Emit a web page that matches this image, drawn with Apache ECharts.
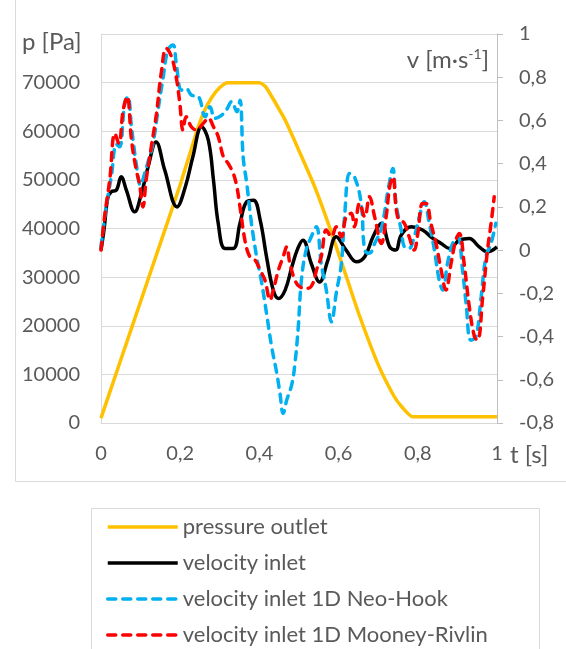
<!DOCTYPE html>
<html><head><meta charset="utf-8">
<script src="https://cdn.jsdelivr.net/npm/echarts@6/dist/echarts.min.js"></script>
<style>html,body{margin:0;padding:0;background:#fff}#c{width:566px;height:649px}</style>
</head><body><div id="c"></div>
<script>
// ---- data ----
const seriesNames = ['pressure outlet','velocity inlet','velocity inlet 1D Neo-Hook','velocity inlet 1D Mooney-Rivlin'];
const xTicks = [0, 0.2, 0.4, 0.6, 0.8, 1];

const tOutlet = [0,0.05,0.10,0.15,0.20,0.24,0.26,0.28,0.30,0.32,0.40,0.415,0.43,0.45,0.465,0.50,0.54,0.577,0.62,0.653,0.70,0.74,0.76,0.787,0.85,0.90,1.0];
const pOutlet = [1000,13000,25000,37000,49000,59500,64000,67000,69000,70000,70000,69200,67300,64500,62300,56000,48500,40300,30000,22000,12000,5500,3300,1300,1300,1300,1300];

const tInlet = [0,0.008,0.017,0.026,0.039,0.051,0.064,0.085,0.102,0.119,0.139,0.161,0.192,0.213,0.232,0.254,0.271,0.284,0.296,0.313,0.334,0.351,0.368,0.385,0.402,0.418,0.435,0.448,0.465,0.482,0.497,0.510,0.531,0.552,0.573,0.594,0.619,0.645,0.666,0.687,0.708,0.729,0.744,0.758,0.783,0.812,0.838,0.859,0.880,0.905,0.930,0.955,0.976,1.0];
const vInlet = [0,0.10,0.24,0.27,0.278,0.34,0.278,0.177,0.262,0.386,0.50,0.37,0.20,0.293,0.432,0.571,0.509,0.324,0.124,0.008,0.008,0.124,0.224,0.231,0.139,-0.031,-0.185,-0.224,-0.185,-0.077,0.008,0.046,-0.062,-0.147,-0.046,0.062,0.0,-0.054,-0.031,0.062,0.124,0.015,0.0,0.069,0.108,0.093,0.054,0.031,0.008,0.046,0.054,0.015,-0.008,0.015];

const tNeo = [0,0.013,0.026,0.039,0.047,0.060,0.068,0.077,0.089,0.100,0.111,0.119,0.131,0.144,0.157,0.169,0.182,0.190,0.203,0.215,0.228,0.246,0.263,0.275,0.288,0.305,0.317,0.330,0.343,0.351,0.359,0.368,0.380,0.393,0.406,0.418,0.431,0.444,0.452,0.460,0.469,0.482,0.490,0.498,0.506,0.518,0.531,0.544,0.556,0.569,0.582,0.594,0.607,0.615,0.628,0.640,0.657,0.666,0.678,0.691,0.708,0.725,0.737,0.745,0.758,0.766,0.778,0.791,0.804,0.816,0.829,0.842,0.854,0.863,0.875,0.888,0.901,0.913,0.922,0.934,0.947,0.960,0.972,0.985,0.997];
const vNeo = [0.015,0.20,0.34,0.49,0.478,0.68,0.71,0.57,0.40,0.30,0.36,0.41,0.49,0.648,0.80,0.926,0.949,0.864,0.74,0.748,0.718,0.71,0.617,0.663,0.61,0.625,0.65,0.687,0.64,0.694,0.43,0.309,0.124,-0.031,-0.154,-0.293,-0.448,-0.571,-0.664,-0.756,-0.694,-0.62,-0.52,-0.36,-0.14,0.0,0.062,0.108,-0.062,-0.185,-0.332,-0.2,-0.062,0.154,0.355,0.34,0.216,0.0,-0.015,0.031,0.10,0.278,0.378,0.216,0.093,0.015,0.008,0.062,0.154,0.224,0.124,0,-0.139,-0.185,-0.062,0.031,0.062,-0.093,-0.247,-0.417,-0.40,-0.216,-0.031,0.031,0.124];

const tMooney = [0,0.009,0.022,0.035,0.045,0.056,0.066,0.077,0.089,0.097,0.106,0.114,0.127,0.140,0.152,0.165,0.178,0.190,0.199,0.207,0.215,0.228,0.241,0.258,0.271,0.284,0.296,0.309,0.321,0.334,0.343,0.351,0.364,0.376,0.389,0.402,0.414,0.427,0.435,0.448,0.460,0.469,0.477,0.490,0.502,0.523,0.535,0.544,0.556,0.569,0.582,0.594,0.607,0.619,0.632,0.640,0.653,0.666,0.678,0.691,0.708,0.720,0.729,0.737,0.749,0.766,0.778,0.791,0.800,0.812,0.821,0.833,0.846,0.859,0.871,0.884,0.896,0.905,0.917,0.930,0.943,0.951,0.964,0.976,0.985,0.993];
const vMooney = [0,0.154,0.324,0.54,0.494,0.648,0.71,0.509,0.37,0.309,0.2,0.324,0.478,0.63,0.818,0.934,0.895,0.80,0.68,0.556,0.617,0.571,0.556,0.586,0.61,0.571,0.525,0.432,0.401,0.355,0.293,0.2,0.04,-0.031,-0.046,-0.093,-0.139,-0.23,-0.185,-0.093,-0.031,0.015,-0.062,-0.14,-0.17,-0.177,-0.154,-0.093,-0.031,0.093,0.062,0.108,0.062,0.154,0.17,0.108,0.216,0.154,0.247,0.154,0.031,0.154,0.293,0.339,0.154,0.124,0.062,0.0,0.077,0.216,0.216,0.124,0.031,-0.093,-0.185,-0.062,0.046,0.077,-0.062,-0.262,-0.40,-0.417,-0.216,0,0.124,0.247];

// ---- chart ----
const zip = (a, b) => a.map((t, i) => [t, b[i]]);
const FONT = 'Lato';
const TXT = '#595959';
const FS = 20;
const comma = v => String(Math.round(v * 10) / 10).replace('.', ',');

const chart = echarts.init(document.getElementById('c'), null, {renderer: 'canvas'});
const dash = [8, 7];
chart.setOption({
  animation: false,
  grid: {left: 101, right: 69, top: 34, bottom: 226, containLabel: false},
  xAxis: {
    type: 'value', min: 0, max: 1, interval: 0.2,
    axisLine: {lineStyle: {color: '#d9d9d9', width: 1}},
    axisTick: {show: false}, splitLine: {show: false},
    axisLabel: {color: TXT, fontFamily: FONT, fontSize: FS, margin: 21, formatter: comma}
  },
  yAxis: [
    {
      type: 'value', min: 0, max: 80000, interval: 10000, position: 'left',
      axisLine: {show: true, lineStyle: {color: '#d9d9d9'}},
      axisTick: {show: false},
      splitLine: {show: true, lineStyle: {color: '#d9d9d9', width: 1}},
      axisLabel: {color: TXT, fontFamily: FONT, fontSize: FS, margin: 21,
        formatter: v => v === 80000 ? '' : String(v)}
    },
    {
      type: 'value', min: -0.8, max: 1, interval: 0.2, position: 'right',
      axisLine: {show: true, lineStyle: {color: '#bfbfbf'}},
      axisTick: {show: true, length: 6, lineStyle: {color: '#bfbfbf'}},
      splitLine: {show: false},
      axisLabel: {color: TXT, fontFamily: FONT, fontSize: FS, margin: 22, formatter: comma}
    }
  ],
  legend: {
    orient: 'vertical', left: 106, top: 516, height: 200, padding: 0,
    itemWidth: 70, itemHeight: 14, itemGap: 14,
    itemStyle: {color: 'rgba(0,0,0,0)', borderColor: 'rgba(0,0,0,0)', borderWidth: 0},
    lineStyle: {width: 3.5},
    textStyle: {color: TXT, fontFamily: FONT, fontSize: 22, lineHeight: 22},
    data: seriesNames
  },
  series: [
    {name: seriesNames[0], type: 'line', yAxisIndex: 0, data: zip(tOutlet, pOutlet),
      symbol: 'none', smooth: 0.2, lineStyle: {color: '#FFC000', width: 3.5}, itemStyle: {color: '#FFC000'}},
    {name: seriesNames[1], type: 'line', yAxisIndex: 1, data: zip(tInlet, vInlet),
      symbol: 'none', smooth: 0.4, lineStyle: {color: '#000000', width: 3.5}, itemStyle: {color: '#000000'}},
    {name: seriesNames[2], type: 'line', yAxisIndex: 1, data: zip(tNeo, vNeo),
      symbol: 'none', smooth: 0.4, lineStyle: {color: '#00B0F0', width: 3.5, type: dash, cap: 'round'}, itemStyle: {color: '#00B0F0'}},
    {name: seriesNames[3], type: 'line', yAxisIndex: 1, data: zip(tMooney, vMooney),
      symbol: 'none', smooth: 0.4, lineStyle: {color: '#FF0000', width: 3.5, type: dash, cap: 'round'}, itemStyle: {color: '#FF0000'}}
  ],
  graphic: [
    {type: 'rect', shape: {x: 15.5, y: -10, width: 600, height: 491.5}, style: {fill: 'none', stroke: '#d9d9d9', lineWidth: 1}, silent: true, z: -10},
    {type: 'rect', shape: {x: 91.5, y: 508.5, width: 448, height: 200}, style: {fill: 'none', stroke: '#d9d9d9', lineWidth: 1}, silent: true, z: -10},
    {type: 'text', x: 22, y: 42, style: {text: 'p [Pa]', fill: TXT, font: '24px ' + FONT, textAlign: 'left', textVerticalAlign: 'middle'}},
    {type: 'text', x: 489, y: 60, style: {text: 'v [m·s{s|-1}]', fill: TXT, font: '24px ' + FONT, textAlign: 'right', textVerticalAlign: 'middle',
      rich: {s: {fontSize: 14, fontFamily: FONT, fill: TXT, verticalAlign: 'top', lineHeight: 26}}}},
    {type: 'text', x: 510, y: 455, style: {text: 't [s]', fill: TXT, font: '24px ' + FONT, textAlign: 'left', textVerticalAlign: 'middle'}}
  ]
});
</script>
</body></html>
